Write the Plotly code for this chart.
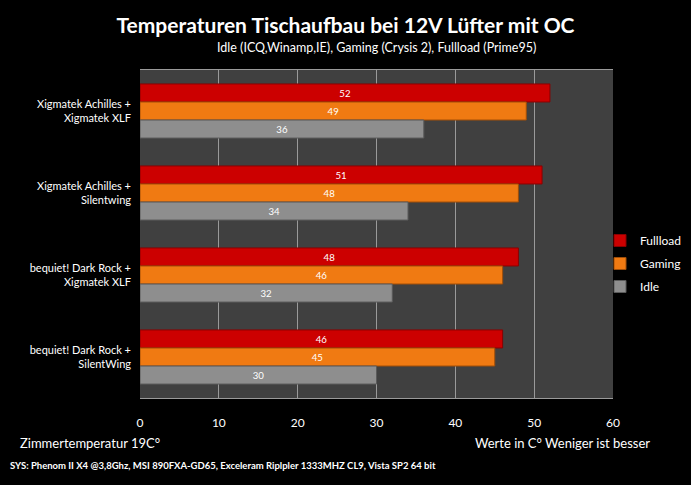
import plotly.graph_objects as go

categories = ["Xigmatek Achilles +<br>Xigmatek XLF",
              "Xigmatek Achilles +<br>Silentwing",
              "bequiet! Dark Rock +<br>Xigmatek XLF",
              "bequiet! Dark Rock +<br>SilentWing"]
fullload = [52, 51, 48, 46]
gaming = [49, 48, 46, 45]
idle = [36, 34, 32, 30]
x_ticks = [0, 10, 20, 30, 40, 50, 60]

series = [("Fullload", fullload, "#CC0000", "#8a0000"),
          ("Gaming", gaming, "#F07A12", "#a04e08"),
          ("Idle", idle, "#8E8E8E", "#5a5a5a")]

fig = go.Figure()
for name, vals, col, edge in series:
    fig.add_trace(go.Bar(
        name=name, y=categories, x=vals, orientation="h", legendgroup=name,
        marker=dict(color=col, line=dict(color=edge, width=1)),
        text=[str(v) for v in vals], textposition="inside",
        insidetextanchor="middle", textangle=0,
        textfont=dict(color="white", size=12, family="Lato"),
    ))

fig.update_layout(
    width=691, height=485,
    margin=dict(l=140, r=78, t=70, b=87, autoexpand=False),
    paper_bgcolor="black", plot_bgcolor="#404040",
    barmode="group", bargap=0.34, bargroupgap=0.0,
    font=dict(family="Lato", color="white", size=11),
    title=dict(text="<b>Temperaturen Tischaufbau bei 12V Lüfter mit OC</b>",
               x=0.5, xanchor="center", y=0.948, yanchor="middle",
               font=dict(size=21, color="white", family="Lato")),
    legend=dict(xref="container", yref="container", x=600/691, y=1 - 226/485,
                xanchor="left", yanchor="top",
                font=dict(size=12, color="white"), bgcolor="rgba(0,0,0,0)",
                itemwidth=30, tracegroupgap=4),
    xaxis=dict(range=[0, 60], tickvals=x_ticks, showgrid=True,
               gridcolor="#9a9a9a", gridwidth=1, zeroline=False,
               ticks="", ticklabelstandoff=14,
               tickfont=dict(size=12, color="white"),
               showline=True, linecolor="#9a9a9a", mirror=True),
    yaxis=dict(autorange="reversed", showgrid=False, ticks="",
               tickfont=dict(size=11, color="white"), ticklabelstandoff=8),
    showlegend=True,
)

fig.add_annotation(text="Idle (ICQ,Winamp,IE), Gaming (Crysis 2), Fullload (Prime95)",
                   xref="paper", yref="paper", x=(376-140)/473, y=1.0 + 22/328,
                   xanchor="center", yanchor="middle", showarrow=False,
                   font=dict(size=12.5, color="white"))
fig.add_annotation(text="Zimmertemperatur 19C°", xref="paper", yref="paper",
                   x=-122/473, y=-45/328, xanchor="left", yanchor="middle",
                   showarrow=False, font=dict(size=13, color="white"))
fig.add_annotation(text="Werte in C° Weniger ist besser", xref="paper", yref="paper",
                   x=(652-140)/473, y=-45/328, xanchor="right", yanchor="middle",
                   showarrow=False, font=dict(size=13, color="white"))
fig.add_annotation(text="<b>SYS: Phenom II X4 @3,8Ghz, MSI 890FXA-GD65, Exceleram Riplpler 1333MHZ CL9, Vista SP2 64 bit</b>",
                   xref="paper", yref="paper", x=-132/473, y=-67/328,
                   xanchor="left", yanchor="middle", showarrow=False,
                   font=dict(size=9.5, color="white"))

fig.write_html("out.html")
